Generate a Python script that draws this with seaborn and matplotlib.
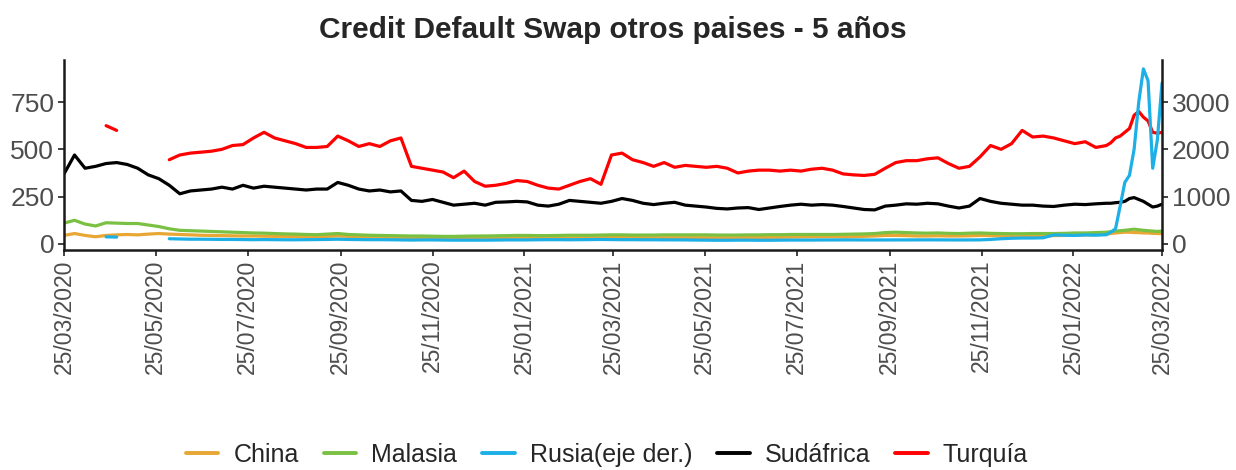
import numpy as np
import pandas as pd
import seaborn as sns
import matplotlib.pyplot as plt
from matplotlib.lines import Line2D

nan = np.nan

# weekly observations, then denser points at the end (Russia spike)
fechas = pd.date_range('2020-03-25', '2022-02-16', freq='7D').append(
    pd.date_range('2022-02-19', '2022-03-25', periods=12))

china = [45, 55, 45, 38, 45, 48, 50, 48, 52, 55,
         52, 50, 48, 46, 45, 44, 43, 42, 42, 41,
         40, 40, 39, 38, 38, 40, 42, 40, 38, 37,
         36, 35, 35, 34, 33, 33, 32, 32, 31, 31,
         31, 31, 32, 32, 32, 32, 31, 31, 32, 32,
         33, 33, 34, 34, 34, 33, 33, 33, 33, 33,
         33, 33, 33, 33, 33, 34, 34, 35, 35, 36,
         37, 38, 38, 38, 37, 38, 40, 42, 45, 45,
         44, 42, 42, 43, 42, 42, 43, 45, 44, 42,
         42, 42, 43, 43, 44, 45, 46, 48, 50, 52,
         55, 58, 60, 62, 62, 60, 60, 58, 58, 56, 55, 55]

malasia = [110, 125, 105, 95, 112, 110, 108, 108, 100, 92,
           80, 72, 70, 68, 66, 64, 62, 60, 58, 57,
           55, 53, 52, 50, 49, 52, 55, 50, 48, 46,
           45, 44, 43, 42, 42, 41, 40, 40, 41, 42,
           42, 43, 44, 45, 45, 44, 44, 45, 46, 46,
           46, 47, 48, 48, 47, 47, 47, 48, 48, 48,
           48, 48, 47, 47, 47, 48, 48, 49, 49, 50,
           50, 50, 50, 50, 51, 52, 53, 55, 60, 62,
           60, 58, 57, 58, 56, 55, 57, 58, 56, 55,
           54, 54, 55, 55, 55, 56, 58, 58, 60, 62,
           65, 68, 70, 72, 75, 78, 75, 72, 70, 68, 66, 68]

rusia = [nan, nan, nan, nan, 150, 145, nan, nan, nan, nan,
         110, 105, 100, 100, 98, 95, 95, 92, 90, 92,
         90, 88, 88, 90, 92, 95, 100, 95, 92, 90,
         90, 88, 85, 82, 85, 85, 82, 80, 80, 80,
         80, 82, 85, 85, 85, 88, 90, 90, 88, 90,
         92, 95, 92, 90, 90, 88, 88, 86, 86, 85,
         82, 80, 78, 78, 80, 80, 78, 78, 80, 82,
         82, 82, 84, 84, 85, 85, 84, 84, 84, 85,
         85, 86, 86, 86, 85, 84, 85, 86, 95, 110,
         120, 125, 125, 130, 190, 185, 180, 190, 185, 195,
         250, 320, 800, 1300, 1450, 2000, 3000, 3700, 3450, 1600, 2200, 3400]

sudafrica = [370, 470, 400, 410, 425, 430, 420, 400, 365, 345,
             310, 265, 280, 285, 290, 300, 290, 310, 295, 305,
             300, 295, 290, 285, 290, 290, 325, 310, 290, 280,
             285, 275, 280, 230, 225, 235, 220, 205, 210, 215,
             205, 220, 222, 225, 222, 205, 200, 210, 230, 225,
             220, 215, 225, 240, 230, 215, 208, 215, 220, 205,
             200, 195, 188, 185, 190, 192, 182, 190, 198, 205,
             210, 205, 208, 205, 198, 190, 182, 180, 200, 205,
             212, 210, 215, 212, 200, 190, 200, 240, 225, 215,
             210, 205, 205, 200, 198, 205, 210, 208, 212, 215,
             215, 218, 220, 225, 240, 245, 235, 225, 210, 195, 200, 210]

turquia = [nan, nan, nan, nan, 625, 600, nan, nan, nan, nan,
           445, 470, 480, 485, 490, 500, 520, 525, 560, 590,
           560, 545, 530, 510, 510, 515, 570, 545, 515, 530,
           515, 545, 560, 410, 400, 390, 380, 350, 385, 330,
           305, 310, 320, 335, 330, 310, 295, 290, 310, 330,
           345, 315, 470, 480, 445, 430, 410, 430, 405, 415,
           410, 405, 410, 400, 375, 385, 390, 390, 385, 390,
           385, 395, 400, 390, 370, 365, 362, 368, 400, 430,
           440, 440, 450, 455, 425, 400, 410, 460, 520, 500,
           530, 600, 565, 570, 560, 545, 530, 540, 510, 520,
           535, 560, 570, 590, 610, 680, 700, 670, 650, 590, 585, 590]

colores = {'China': '#E8A735', 'Malasia': '#7AC143', 'Rusia(eje der.)': '#1CB0E6',
           'Sudáfrica': '#000000', 'Turquía': '#FF0000'}


def largo(series):
    partes = []
    for nombre, vals in series.items():
        d = pd.DataFrame({'fecha': fechas, 'valor': vals, 'serie': nombre})
        d['seg'] = nombre + d['valor'].isna().cumsum().astype(str)
        partes.append(d.dropna())
    return pd.concat(partes, ignore_index=True)


izq = largo({'China': china, 'Malasia': malasia, 'Sudáfrica': sudafrica, 'Turquía': turquia})
der = largo({'Rusia(eje der.)': rusia})

sns.set_theme(style='ticks')
plt.rcParams['font.family'] = ['Liberation Sans', 'DejaVu Sans']

fig = plt.figure(figsize=(12.36, 4.70), dpi=100)
ax = fig.add_axes([64 / 1236, 1 - 250 / 470, (1162 - 64) / 1236, (250 - 60) / 470])
ax2 = ax.twinx()

sns.lineplot(data=izq, x='fecha', y='valor', hue='serie', units='seg', estimator=None,
             palette=colores, lw=2.3, legend=False, ax=ax)
sns.lineplot(data=der, x='fecha', y='valor', hue='serie', units='seg', estimator=None,
             palette=colores, lw=2.3, legend=False, ax=ax2)

ax.set_xlim(pd.Timestamp('2020-03-25'), pd.Timestamp('2022-03-25'))
ax.set_ylim(-32, 972)
ax2.set_ylim(-128, 3888)
ax.set_yticks([0, 250, 500, 750])
ax2.set_yticks([0, 1000, 2000, 3000])
ticks = pd.date_range('2020-03-25', '2022-03-25', freq=pd.DateOffset(months=2))
ax.set_xticks(ticks)
ax.set_xticklabels([t.strftime('%d/%m/%Y') for t in ticks], rotation=90)
ax.set_xlabel('')
ax.set_ylabel('')
ax2.set_ylabel('')

for a in (ax, ax2):
    a.spines['top'].set_visible(False)
    for s in a.spines.values():
        s.set_linewidth(1.8)
        s.set_color('#1a1a1a')
    a.tick_params(length=4, width=1.3, pad=3, color='#333333', labelcolor='#4D4D4D', labelsize=19)
ax.spines['right'].set_visible(False)
ax2.spines['left'].set_visible(False)
ax2.spines['bottom'].set_visible(False)
ax.tick_params(axis='x', labelsize=16.5)

fig.text(613 / 1236, 1 - 30 / 470, 'Credit Default Swap otros paises - 5 años',
         ha='center', va='center', fontsize=21.5, fontweight='bold')

handles = [Line2D([], [], color=c, lw=2.8) for c in colores.values()]
fig.legend(handles, list(colores.keys()), loc='center', bbox_to_anchor=(0.491, 0.032),
           ncol=5, frameon=False, fontsize=18, handlelength=1.3, columnspacing=1.0,
           handletextpad=0.6)

fig.savefig('out.png', dpi=100)
